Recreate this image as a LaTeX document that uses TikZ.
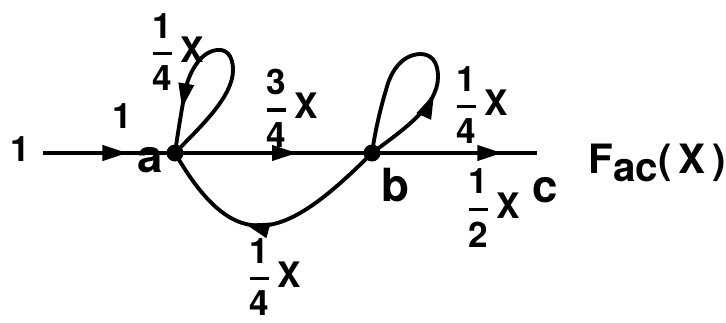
\documentclass[tikz,border=0pt]{standalone}
\usepackage{fontspec}
\setmainfont{TeX Gyre Heros}
\usetikzlibrary{arrows.meta,decorations.markings}
\newcommand\fr[2]{$\displaystyle{\hbox{#1}\above2pt\hbox{#2}}$}
\tikzset{
  x=0.02cm,y=0.02cm,
  edge/.style={line width=2.2pt},
  dot/.style={circle,fill,inner sep=0pt,minimum size=0.34cm},
  midarrow/.style={postaction={decorate},decoration={markings,
    mark=at position #1 with {\arrow{Triangle[length=0.5cm,width=0.3cm]}}}},
  lbl/.style={inner sep=0pt,font=\fontsize{20}{22}\selectfont\bfseries},
  small/.style={inner sep=0pt,font=\fontsize{26}{28}\selectfont\bfseries},
}
\begin{document}
\begin{tikzpicture}
\useasboundingbox (0,0) rectangle (726,322);
\node[dot] (a) at (175,169) {};
\node[dot] (b) at (372,169) {};
\coordinate (in) at (43,169);
\coordinate (out) at (537,169);
% edges
\draw[edge,midarrow=0.64] (in) -- (a.center);
\draw[edge,midarrow=0.62] (a.center) -- (b.center);
\draw[edge,midarrow=0.79] (b.center) -- (out);
\draw[edge,midarrow=0.6] (b.center) to[out=-135,in=-60,looseness=1.6] (a.center);
\draw[edge,midarrow=0.82] (a.center) .. controls (200,195) and (233,225) .. (233,252)
   .. controls (233,268) and (225,273) .. (217,272)
   .. controls (200,270) and (190,250) .. (186,235)
   .. controls (182,215) and (178,190) .. (a.center);
\draw[edge,midarrow=0.34] (b.center) .. controls (400,190) and (438,215) .. (438,245)
   .. controls (438,262) and (430,268) .. (420,268)
   .. controls (400,267) and (390,248) .. (386,232)
   .. controls (380,212) and (375,190) .. (b.center);
% labels
\node[lbl] (lin) at (20,173) {1};
\node[lbl] (l1) at (122,206) {1};
\node[small] (la) at (150,162) {a};
\node[small] (lb) at (395,137) {b};
\node[small] (lc) at (545,132) {c};
\node[lbl] (l34) at (291,214) {\fr{3}{4}\,X};
\node[lbl] (l14a) at (177,270) {\fr{1}{4}\,X};
\node[lbl] (l14b) at (481,217) {\fr{1}{4}\,X};
\node[lbl] (l14c) at (274,45) {\fr{1}{4}\,X};
\node[lbl] (l12) at (493,114) {\fr{1}{2}\,X};
\node[inner sep=0pt,font=\fontsize{23}{25}\selectfont\bfseries] (lF) at (657,159)
   {F\lower5pt\hbox{ac}(\,X\,)};
\end{tikzpicture}
\end{document}
